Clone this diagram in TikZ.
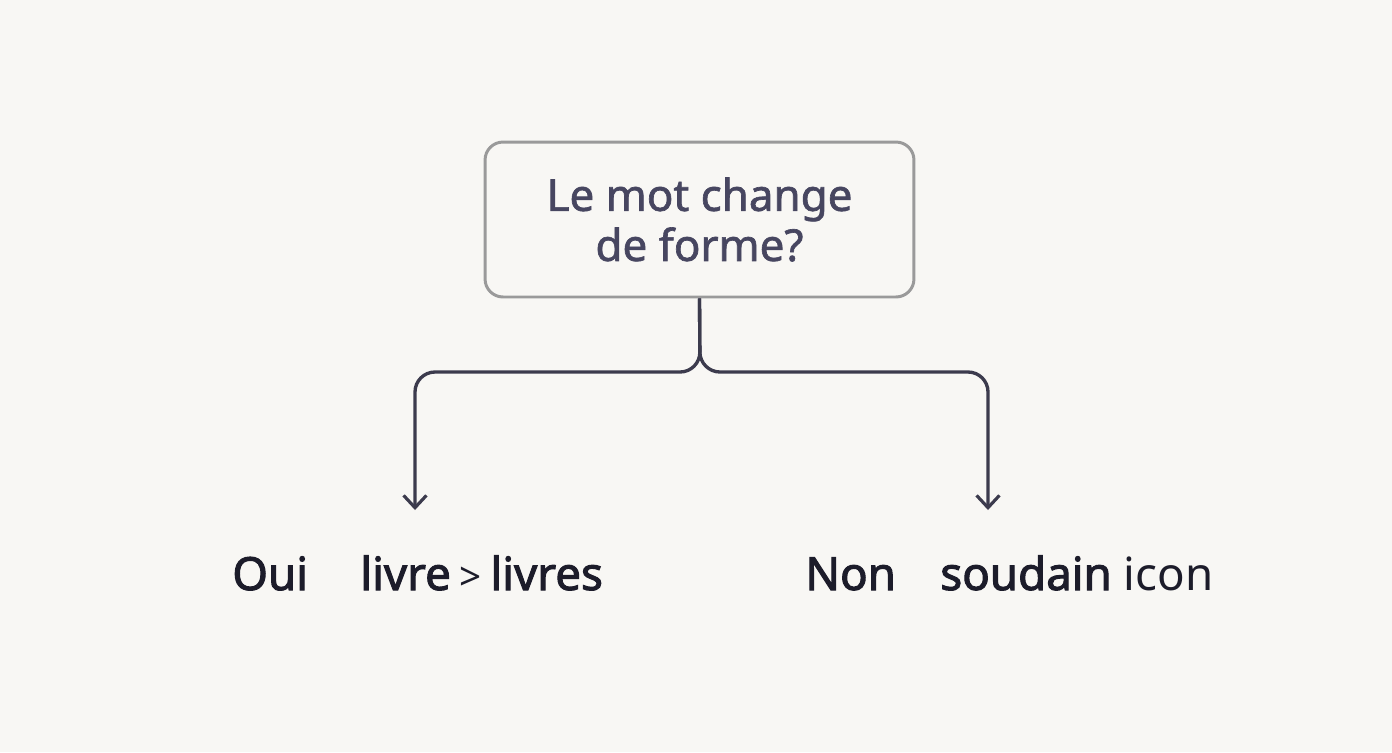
\documentclass[tikz,border=0pt]{standalone}
\usepackage{fontspec}
\setmainfont{Noto Sans}
\newfontfamily\qfont{Noto Sans}[FakeBold=1.5]
\newfontfamily\labfont{Noto Sans}[FakeBold=2.2]
\usepackage{tikz}
\usetikzlibrary{arrows.meta, positioning}
\definecolor{bgpaper}{RGB}{248,247,244}
\definecolor{boxgray}{RGB}{154,154,154}
\definecolor{qtext}{RGB}{71,70,96}
\definecolor{linkdark}{RGB}{60,59,77}
\definecolor{labdark}{RGB}{28,28,42}
\tikzset{
  question/.style={rectangle, draw=boxgray, fill=bgpaper, rounded corners=0.36cm, line width=1.7pt, minimum width=8.58cm, minimum height=3.1cm, align=center, text=qtext, font=\qfont\fontsize{25}{28.5}\selectfont},
  branch/.style={line width=1.9pt, color=linkdark, rounded corners=0.4cm, -{Straight Barb[length=7pt, width=13pt, line width=1.8pt]}},
  answer/.style={anchor=base west, inner sep=0pt, text=labdark, font=\labfont\fontsize{26}{30}\selectfont}
}

\begin{document}
\begin{tikzpicture}[x=0.02cm, y=-0.02cm]
  \fill [bgpaper] (0,0) rectangle (1392,752);
  \useasboundingbox (0,0) rectangle (1392,752);

  \node [question] (q) at (699.5,219.5) {Le mot change\\de forme?};

  \coordinate (split) at (700,372);
  \coordinate (tipoui) at (415,510);
  \coordinate (tipnon) at (988,510);

  \draw [branch] (q.south) -- (split) -| (tipoui);
  \draw [branch] (q.south) -- (split) -| (tipnon);

  \node [answer] (oui) at (232,590) {Oui};
  \node [answer] (exoui) at (360,590) {livre\kern5pt{\setmainfont{Noto Sans}\fontsize{22}{24}\selectfont>}\kern5pt livres};
  \node [answer] (non) at (805,590) {Non};
  \node [answer] (exnon) at (940,590) {soudain {\setmainfont{Noto Sans}\rmfamily icon}};
\end{tikzpicture}
\end{document}
